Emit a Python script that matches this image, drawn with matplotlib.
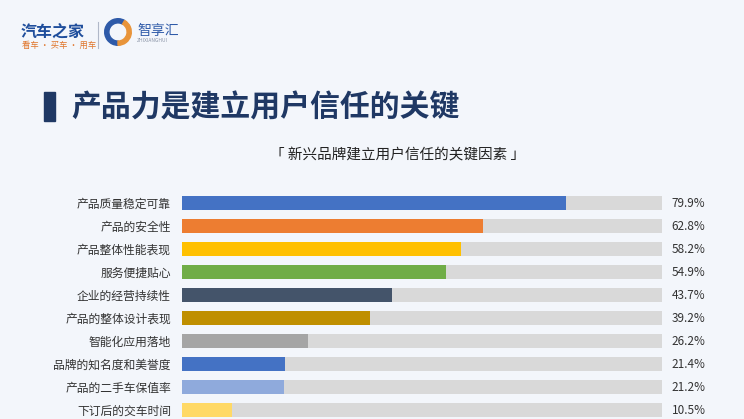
import matplotlib
matplotlib.use('Agg')
import matplotlib.pyplot as plt
from matplotlib.patches import Rectangle, Wedge

plt.rcParams['font.family'] = ['Noto Sans CJK SC', 'DejaVu Sans']

FACTORS = ['产品质量稳定可靠', '产品的安全性', '产品整体性能表现', '服务便捷贴心',
           '企业的经营持续性', '产品的整体设计表现', '智能化应用落地',
           '品牌的知名度和美誉度', '产品的二手车保值率', '下订后的交车时间']
SHARE = [79.9, 62.8, 58.2, 54.9, 43.7, 39.2, 26.2, 21.4, 21.2, 10.5]
COLORS = ['#4472C4', '#ED7D31', '#FFC000', '#70AD47', '#44546A',
          '#BF8F00', '#A5A5A5', '#4472C4', '#8FAADC', '#FFD966']
TITLE = '产品力是建立用户信任的关键'
SUBTITLE = '「 新兴品牌建立用户信任的关键因素 」'

W, H = 744, 419
BG = '#F3F6FB'
fig = plt.figure(figsize=(W / 100, H / 100), dpi=100, facecolor=BG)

# header logo (approximate)
fig.text(21 / W, 1 - 32 / H, '汽车之家', fontsize=11.5, fontweight='bold', color='#1F4E9C',
         va='center', ha='left')
fig.text(22 / W, 1 - 45 / H, '看车 · 买车 · 用车', fontsize=6, color='#E0752B',
         va='center', ha='left')
fig.add_artist(plt.Line2D([98 / W, 98 / W], [1 - 22 / H, 1 - 48 / H], color='#B0B8C8', lw=0.8))
lax = fig.add_axes([104 / W, 1 - 46 / H, 28 / W, 28 / H])
lax.set_xlim(-1, 1); lax.set_ylim(-1, 1); lax.set_aspect('equal'); lax.axis('off')
lax.add_patch(Wedge((0, 0), 0.95, 60, 270, width=0.3, color='#2E5AA8'))
lax.add_patch(Wedge((0, 0), 0.95, -90, 60, width=0.3, color='#E8943A'))
fig.text(137 / W, 1 - 31 / H, '智享汇', fontsize=10, color='#2E5AA8', va='center', ha='left')
fig.text(137 / W, 1 - 40 / H, 'ZHIXIANGHUI', fontsize=3.5, color='#8A94A6', va='center', ha='left')

# title
fig.add_artist(Rectangle((44 / W, 1 - 121 / H), 11 / W, 29 / H, color='#1F3864',
                         transform=fig.transFigure))
fig.text(71 / W, 1 - 107 / H, TITLE, fontsize=21.5, fontweight='bold', color='#1F3864',
         va='center', ha='left')
fig.text(398 / W, 1 - 155 / H, SUBTITLE, fontsize=10.5, color='#222222', va='center', ha='center')

# bars
ax = fig.add_axes([182 / W, 1 - 421.5 / H, 480 / W, 230 / H])
ax.set_facecolor('none')
y = list(range(len(FACTORS)))
ax.barh(y, [100] * len(y), height=0.57, color='#D9D9D9', zorder=1)
ax.barh(y, SHARE, height=0.57, color=COLORS, zorder=2)
ax.set_xlim(0, 100)
ax.set_ylim(len(y) - 0.5, -0.5)
ax.set_yticks(y)
ax.set_yticklabels(FACTORS, fontsize=8.5, color='#333333')
ax.tick_params(axis='y', length=0, pad=8)
ax.set_xticks([])
for s in ax.spines.values():
    s.set_visible(False)
for yi, v in zip(y, SHARE):
    ax.text(102, yi, f'{v:.1f}%', fontsize=8.5, color='#333333', va='center', ha='left',
            clip_on=False)

fig.savefig('out.png', dpi=100, facecolor=BG)
